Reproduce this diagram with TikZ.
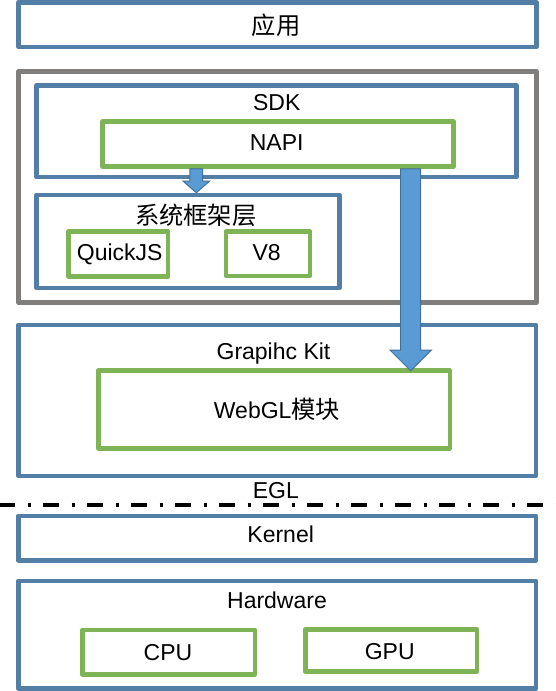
\documentclass[tikz,border=0pt]{standalone}
\usepackage{fontspec}
\setmainfont{Liberation Sans}
\newfontfamily\cjk{Noto Sans CJK SC}
\usetikzlibrary{calc}
\definecolor{bl}{RGB}{83,127,167}
\definecolor{gr}{RGB}{127,180,86}
\definecolor{gy}{RGB}{128,125,125}
\definecolor{af}{RGB}{91,155,213}
\definecolor{ao}{RGB}{65,113,156}
\newcommand{\cjkt}[1]{{\fontsize{24.3}{29}\selectfont\cjk #1}}
\tikzset{
  frame/.style={draw, line width=4.6pt, line join=round, inner sep=0pt, fill=none},
  bluebox/.style={frame, draw=bl},
  greenbox/.style={frame, draw=gr},
  graybox/.style={frame, draw=gy},
  lbl/.style={inner sep=0pt, anchor=base, font=\fontsize{23}{27}\selectfont},
  clbl/.style={inner sep=0pt, anchor=center, font=\fontsize{24.3}{29}\selectfont\cjk},
  blockarrow/.style={fill=af, draw=ao, line width=1pt, line join=miter},
  sep/.style={draw=black, line width=4.6pt, dash pattern=on 16pt off 12.5pt on 3pt off 12.5pt, dash phase=1pt}
}
\begin{document}
\begin{tikzpicture}[x=1pt, y=-1pt]
\useasboundingbox[fill=white] (0,0) rectangle (556,691);
% boxes
\node[bluebox, minimum width=517.8pt, minimum height=44.6pt] (app) at (277.4,24.5) {};
\node[graybox, minimum width=517.8pt, minimum height=231.2pt] (outer) at (277.4,187.1) {};
\node[bluebox, minimum width=480pt, minimum height=91.5pt] (sdk) at (276.5,131.25) {};
\node[greenbox, minimum width=351pt, minimum height=45pt] (napi) at (278,144) {};
\node[bluebox, minimum width=302.8pt, minimum height=93pt] (sys) at (188.1,241.5) {};
\node[greenbox, minimum width=99.5pt, minimum height=44.8pt] (qjs) at (118.25,254.1) {};
\node[greenbox, minimum width=84pt, minimum height=44.3pt] (v8) at (268,253.85) {};
\node[bluebox, minimum width=517.3pt, minimum height=151pt] (gk) at (277.15,400.3) {};
\node[greenbox, minimum width=351.3pt, minimum height=77.7pt] (webgl) at (274.15,409.35) {};
\node[bluebox, minimum width=517.5pt, minimum height=44.4pt] (kernel) at (277.25,538) {};
\node[bluebox, minimum width=517.5pt, minimum height=107.5pt] (hw) at (277.25,634.55) {};
\node[greenbox, minimum width=172.5pt, minimum height=44.4pt] (cpu) at (168.75,652) {};
\node[greenbox, minimum width=171.6pt, minimum height=42.5pt] (gpu) at (391,650.45) {};
% separator
\coordinate (sepl) at (0,505);
\coordinate (sepr) at (556,505);
\draw[sep] (sepl) -- (sepr);
% small arrow NAPI -> system framework
\coordinate (stip) at (sys.north -| 196.3,0);
\coordinate (sst) at (napi.south -| stip);
\draw[blockarrow]
  ([xshift=-6.35pt]sst) -- ([xshift=-6.35pt,yshift=11.6pt]stip) -- ([xshift=-13.3pt,yshift=11.6pt]stip)
  -- (stip) -- ([xshift=13.3pt,yshift=11.6pt]stip) -- ([xshift=6.35pt,yshift=11.6pt]stip)
  -- ([xshift=6.35pt]sst) -- cycle;
% big arrow NAPI -> WebGL
\coordinate (btip) at (410.7,370.7);
\coordinate (bst) at (napi.south -| btip);
\draw[blockarrow]
  ([xshift=-10pt]bst) -- ([xshift=-10pt,yshift=20.7pt]btip) -- ([xshift=-20.7pt,yshift=20.7pt]btip)
  -- (btip) -- ([xshift=20.7pt,yshift=20.7pt]btip) -- ([xshift=10pt,yshift=20.7pt]btip)
  -- ([xshift=10pt]bst) -- cycle;
% labels
\node[clbl] (tapp) at (276,25.5) {应用};
\node[lbl] (tsdk) at (276.7,110) {SDK};
\node[lbl] (tnapi) at (276.7,150) {NAPI};
\node[clbl] (tsys) at (195.8,215) {系统框架层};
\node[lbl] (tqjs) at (119.7,260) {QuickJS};
\node[lbl] (tv8) at (266.7,260) {V8};
\node[lbl] (tgk) at (273.5,359) {Grapihc Kit};
\node[lbl] (twebgl) at (277,418.3) {WebGL\cjkt{模块}};
\node[lbl] (tegl) at (275.8,498.3) {EGL};
\node[lbl] (tkernel) at (280.7,542.7) {Kernel};
\node[lbl] (thw) at (277,608.3) {Hardware};
\node[lbl] (tcpu) at (168,660.7) {CPU};
\node[lbl] (tgpu) at (389.7,659.3) {GPU};
\end{tikzpicture}
\end{document}
